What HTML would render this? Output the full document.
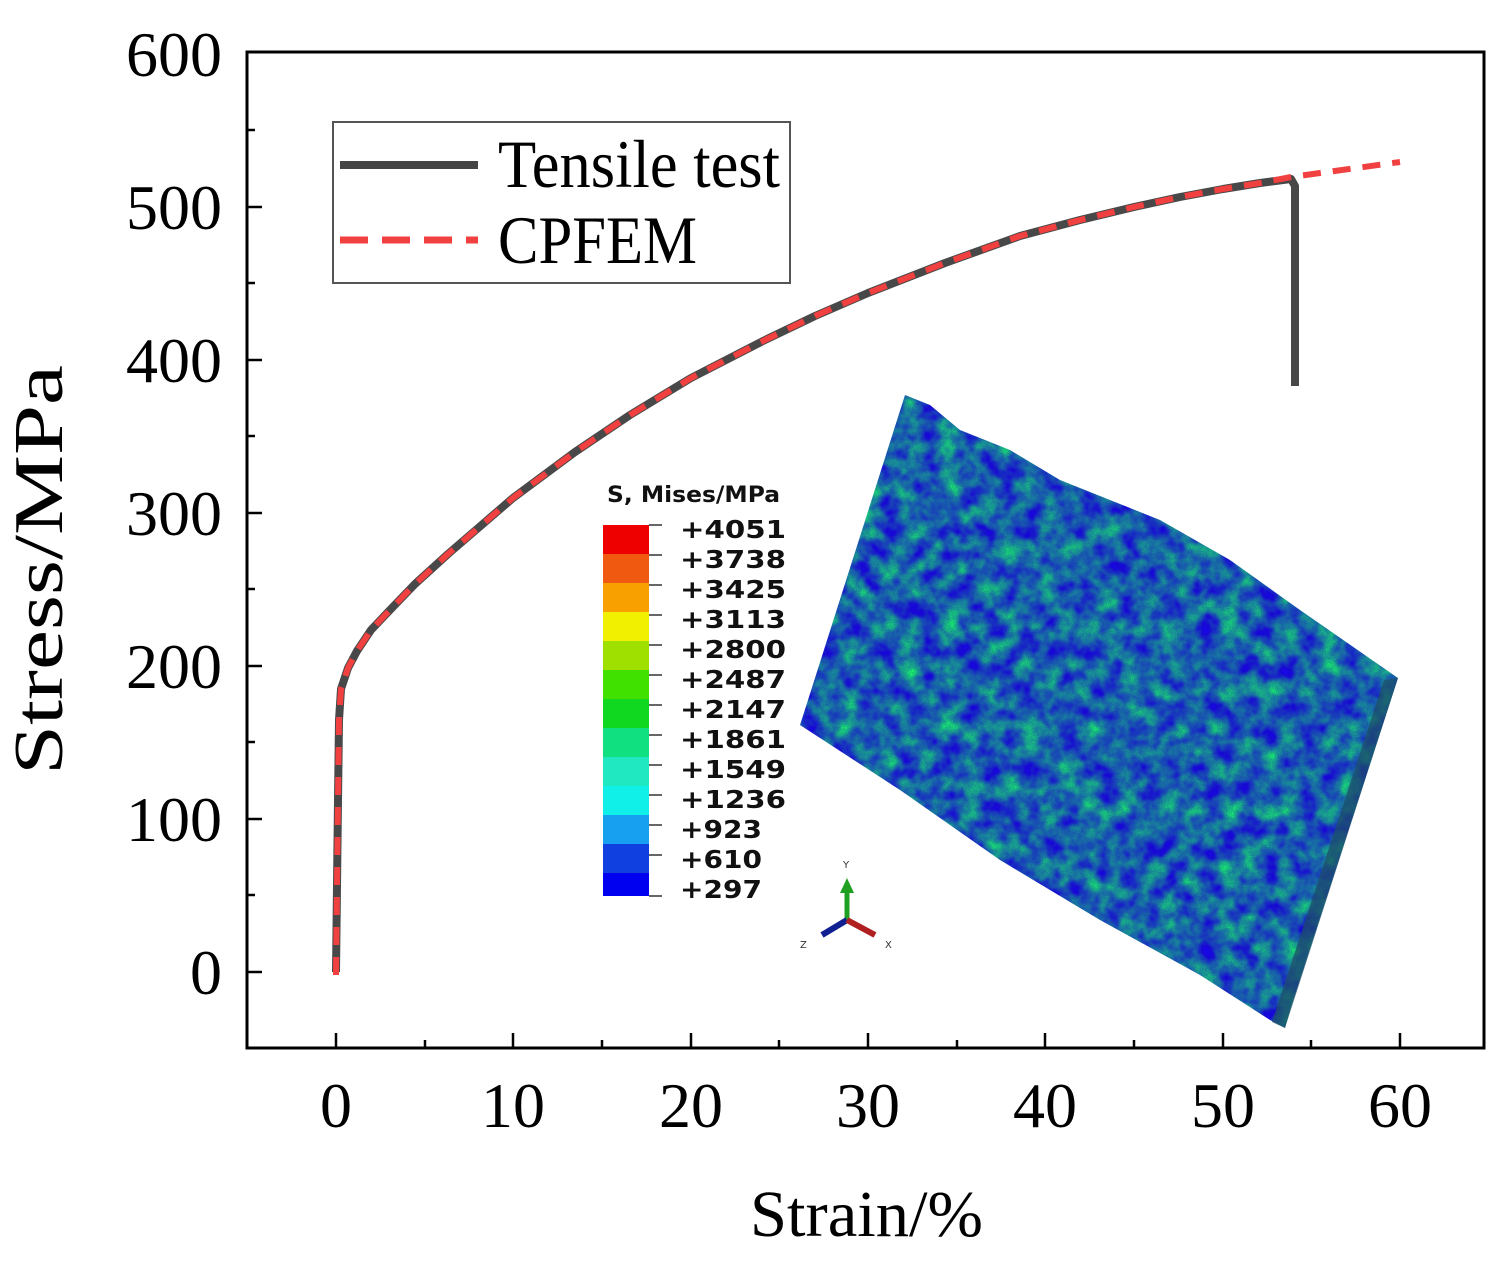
<!DOCTYPE html>
<html><head><meta charset="utf-8"><style>
body{margin:0;background:#fff;}
svg{display:block;}
</style></head><body>
<svg width="1506" height="1264" viewBox="0 0 1506 1264" xmlns="http://www.w3.org/2000/svg">
<defs>
<filter id="noise" x="0" y="0" width="100%" height="100%" color-interpolation-filters="sRGB">
<feTurbulence type="fractalNoise" baseFrequency="0.05" numOctaves="3" seed="7" result="t"/>
<feColorMatrix in="t" type="matrix" values="0 0 0 0 0.1  1.5 0 0 0 -0.35  -0.7 0 0 0 1.05  0 0 0 0 1" result="c"/>
<feTurbulence type="fractalNoise" baseFrequency="0.8" numOctaves="1" seed="3" result="f"/>
<feColorMatrix in="f" type="matrix" values="0 0 0 0 0.05  0 0 0 0 0.2  0 0 0 0 0.5  0 0 0 0.6 -0.15" result="fa"/>
<feComposite in="fa" in2="c" operator="over" result="m"/>
<feComposite in="m" in2="SourceGraphic" operator="in"/>
</filter>
</defs>
<rect width="1506" height="1264" fill="#fff"/>
<!-- specimen -->
<polygon points="800,725 808,700 905,395 930,405 960,430 1010,450 1060,480 1110,500 1160,520 1230,560 1300,610 1398,678 1290,1010 1285,1028 1270,1020 1200,975 1100,920 1000,860 900,790" fill="#2a60c0" filter="url(#noise)"/>
<polygon points="1285,1028 1398,678 1384,680 1272,1022" fill="#1c5068" opacity="0.75"/>
<!-- axes -->
<rect x="247" y="52" width="1237" height="996" fill="none" stroke="#000" stroke-width="3"/>
<g stroke="#000" stroke-width="2.5">
<line x1="247" y1="972" x2="262" y2="972"/><line x1="247" y1="819" x2="262" y2="819"/><line x1="247" y1="666" x2="262" y2="666"/><line x1="247" y1="513" x2="262" y2="513"/><line x1="247" y1="360" x2="262" y2="360"/><line x1="247" y1="207" x2="262" y2="207"/>
<line x1="247" y1="895" x2="255" y2="895"/><line x1="247" y1="742" x2="255" y2="742"/><line x1="247" y1="589" x2="255" y2="589"/><line x1="247" y1="436" x2="255" y2="436"/><line x1="247" y1="283" x2="255" y2="283"/><line x1="247" y1="130" x2="255" y2="130"/>
<line x1="336" y1="1048" x2="336" y2="1033"/><line x1="513" y1="1048" x2="513" y2="1033"/><line x1="691" y1="1048" x2="691" y2="1033"/><line x1="868" y1="1048" x2="868" y2="1033"/><line x1="1045" y1="1048" x2="1045" y2="1033"/><line x1="1223" y1="1048" x2="1223" y2="1033"/><line x1="1400" y1="1048" x2="1400" y2="1033"/>
<line x1="425" y1="1048" x2="425" y2="1040"/><line x1="602" y1="1048" x2="602" y2="1040"/><line x1="779" y1="1048" x2="779" y2="1040"/><line x1="957" y1="1048" x2="957" y2="1040"/><line x1="1134" y1="1048" x2="1134" y2="1040"/><line x1="1311" y1="1048" x2="1311" y2="1040"/>
</g>
<g font-family="Liberation Serif, serif" font-size="64" fill="#000" text-anchor="end">
<text x="222" y="994">0</text><text x="222" y="841">100</text><text x="222" y="688">200</text><text x="222" y="535">300</text><text x="222" y="382">400</text><text x="222" y="229">500</text><text x="222" y="76">600</text>
</g>
<g font-family="Liberation Serif, serif" font-size="64" fill="#000" text-anchor="middle">
<text x="336" y="1127">0</text><text x="513" y="1127">10</text><text x="691" y="1127">20</text><text x="868" y="1127">30</text><text x="1045" y="1127">40</text><text x="1223" y="1127">50</text><text x="1400" y="1127">60</text>
</g>
<text x="750" y="1236" font-family="Liberation Serif, serif" font-size="66" textLength="233" lengthAdjust="spacingAndGlyphs">Strain/%</text>
<text transform="translate(62,775) rotate(-90)" font-family="Liberation Serif, serif" font-size="70" textLength="410" lengthAdjust="spacingAndGlyphs">Stress/MPa</text>
<!-- curves -->
<polyline points="336,972 338,800 339,720 341,689 348,668 357,651 371,630 389,611 415,584 448,554 513,498 575,452 630,415 691,378 767,339 815,316 868,293 945,263 1020,236 1080,220 1134,207 1180,197 1223,189 1260,183 1291,179 1295,186 1295,386" fill="none" stroke="#484848" stroke-width="8" stroke-linejoin="round"/>
<polyline points="336,975 338,800 339,720 341,689 348,668 357,651 371,630 389,611 415,584 448,554 513,498 575,452 630,415 691,378 767,339 815,316 868,293 945,263 1020,236 1080,220 1134,207 1180,197 1223,189 1260,183 1291,177 1400,162" fill="none" stroke="#f04040" stroke-width="6" stroke-dasharray="18,12"/>
<!-- legend -->
<rect x="333" y="122" width="457" height="161" fill="#fff" stroke="#555" stroke-width="2"/>
<line x1="340" y1="165" x2="478" y2="165" stroke="#444" stroke-width="8"/>
<line x1="340" y1="240" x2="478" y2="240" stroke="#f04040" stroke-width="7" stroke-dasharray="28,14"/>
<g font-family="Liberation Serif, serif" font-size="68" fill="#000">
<text x="498" y="187" textLength="282" lengthAdjust="spacingAndGlyphs">Tensile test</text><text x="498" y="263" textLength="199" lengthAdjust="spacingAndGlyphs">CPFEM</text>
</g>
<!-- colorbar -->
<g>
<rect x="603" y="525" width="46" height="29" fill="#ee0000"/>
<rect x="603" y="554" width="46" height="29" fill="#f05a10"/>
<rect x="603" y="583" width="46" height="29" fill="#f8a000"/>
<rect x="603" y="612" width="46" height="29" fill="#f0f000"/>
<rect x="603" y="641" width="46" height="29" fill="#a0e000"/>
<rect x="603" y="670" width="46" height="29" fill="#40e000"/>
<rect x="603" y="699" width="46" height="29" fill="#10d820"/>
<rect x="603" y="728" width="46" height="29" fill="#10e080"/>
<rect x="603" y="757" width="46" height="29" fill="#20e8c0"/>
<rect x="603" y="786" width="46" height="29" fill="#10f0e8"/>
<rect x="603" y="815" width="46" height="29" fill="#18a0f0"/>
<rect x="603" y="844" width="46" height="29" fill="#1040e0"/>
<rect x="603" y="873" width="46" height="23" fill="#0000f0"/>
</g>
<g stroke="#333" stroke-width="1.5">
<line x1="649" y1="525" x2="662" y2="525"/><line x1="649" y1="555" x2="662" y2="555"/><line x1="649" y1="585" x2="662" y2="585"/><line x1="649" y1="615" x2="662" y2="615"/><line x1="649" y1="645" x2="662" y2="645"/><line x1="649" y1="675" x2="662" y2="675"/><line x1="649" y1="705" x2="662" y2="705"/><line x1="649" y1="735" x2="662" y2="735"/><line x1="649" y1="765" x2="662" y2="765"/><line x1="649" y1="795" x2="662" y2="795"/><line x1="649" y1="825" x2="662" y2="825"/><line x1="649" y1="855" x2="662" y2="855"/><line x1="649" y1="896" x2="662" y2="896"/>
</g>
<g font-family="DejaVu Sans, sans-serif" font-size="25" font-weight="bold" fill="#111">
<text x="607" y="502" font-size="22" textLength="173" lengthAdjust="spacingAndGlyphs">S, Mises/MPa</text>
<text x="680" y="538" textLength="106" lengthAdjust="spacingAndGlyphs">+4051</text><text x="680" y="568" textLength="106" lengthAdjust="spacingAndGlyphs">+3738</text><text x="680" y="598" textLength="106" lengthAdjust="spacingAndGlyphs">+3425</text><text x="680" y="628" textLength="106" lengthAdjust="spacingAndGlyphs">+3113</text><text x="680" y="658" textLength="106" lengthAdjust="spacingAndGlyphs">+2800</text><text x="680" y="688" textLength="106" lengthAdjust="spacingAndGlyphs">+2487</text><text x="680" y="718" textLength="106" lengthAdjust="spacingAndGlyphs">+2147</text><text x="680" y="748" textLength="106" lengthAdjust="spacingAndGlyphs">+1861</text><text x="680" y="778" textLength="106" lengthAdjust="spacingAndGlyphs">+1549</text><text x="680" y="808" textLength="106" lengthAdjust="spacingAndGlyphs">+1236</text><text x="680" y="838" textLength="82" lengthAdjust="spacingAndGlyphs">+923</text><text x="680" y="868" textLength="82" lengthAdjust="spacingAndGlyphs">+610</text><text x="680" y="898" textLength="82" lengthAdjust="spacingAndGlyphs">+297</text>
</g>
<!-- triad -->
<line x1="847" y1="920" x2="847" y2="888" stroke="#20a020" stroke-width="5"/>
<polygon points="840,893 854,893 847,878" fill="#20a020"/>
<line x1="847" y1="920" x2="822" y2="935" stroke="#102090" stroke-width="6"/>
<line x1="847" y1="920" x2="875" y2="935" stroke="#b02020" stroke-width="6"/>
<g font-family="DejaVu Sans, sans-serif" font-size="10" fill="#333"><text x="843" y="868">Y</text><text x="800" y="948">Z</text><text x="885" y="948">X</text></g>
</svg>
</body></html>
